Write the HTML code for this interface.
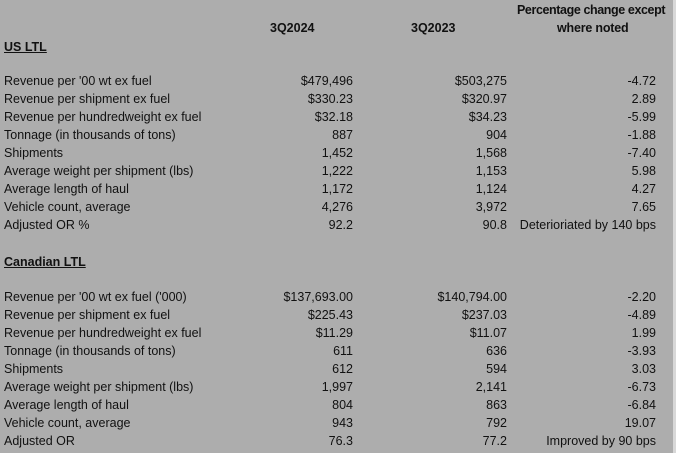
<!DOCTYPE html>
<html><head><style>
body{margin:0;width:676px;height:453px;background:#adadad;position:relative;overflow:hidden;font-family:"Liberation Sans",Arial,sans-serif;font-size:12.5px;color:#111}
.strip{position:absolute;left:673px;top:0;width:3px;height:453px;background:#d8d8d8}
div.t{position:absolute;white-space:nowrap;line-height:18px}
.l{left:4px}
.a,.b,.c{text-align:right}
.a{right:323px}.b{right:169px}.c{right:20px}
.h{font-weight:bold}
.u{font-weight:bold;text-decoration:underline}
</style></head><body>
<div class="strip"></div>
<div class="t h" style="left:270px;top:19px">3Q2024</div>
<div class="t h" style="left:411px;top:19px">3Q2023</div>
<div class="t h" style="left:517px;top:1px;letter-spacing:-0.4px">Percentage change except</div>
<div class="t h" style="left:557px;top:19px;letter-spacing:-0.2px">where noted</div>
<div class="t u l" style="top:38px">US LTL</div>
<div id="r"></div>
<script>
var us=[["Revenue per '00 wt ex fuel","$479,496","$503,275","-4.72"],["Revenue per shipment ex fuel","$330.23","$320.97","2.89"],["Revenue per hundredweight ex fuel","$32.18","$34.23","-5.99"],["Tonnage (in thousands of tons)","887","904","-1.88"],["Shipments","1,452","1,568","-7.40"],["Average weight per shipment (lbs)","1,222","1,153","5.98"],["Average length of haul","1,172","1,124","4.27"],["Vehicle count, average","4,276","3,972","7.65"],["Adjusted OR %","92.2","90.8","Deterioriated by 140 bps"]];
var ca=[["Revenue per '00 wt ex fuel ('000)","$137,693.00","$140,794.00","-2.20"],["Revenue per shipment ex fuel","$225.43","$237.03","-4.89"],["Revenue per hundredweight ex fuel","$11.29","$11.07","1.99"],["Tonnage (in thousands of tons)","611","636","-3.93"],["Shipments","612","594","3.03"],["Average weight per shipment (lbs)","1,997","2,141","-6.73"],["Average length of haul","804","863","-6.84"],["Vehicle count, average","943","792","19.07"],["Adjusted OR","76.3","77.2","Improved by 90 bps"]];
var h="";
function add(rows,y0){rows.forEach(function(r,i){var y=y0+i*18;h+='<div class="t l" style="top:'+y+'px">'+r[0]+'</div><div class="t a" style="top:'+y+'px">'+r[1]+'</div><div class="t b" style="top:'+y+'px">'+r[2]+'</div><div class="t c" style="top:'+y+'px">'+r[3]+'</div>';});}
add(us,72);add(ca,288);
h+='<div class="t u l" style="top:253px">Canadian LTL</div>';
document.getElementById("r").outerHTML=h;
</script>
</body></html>
